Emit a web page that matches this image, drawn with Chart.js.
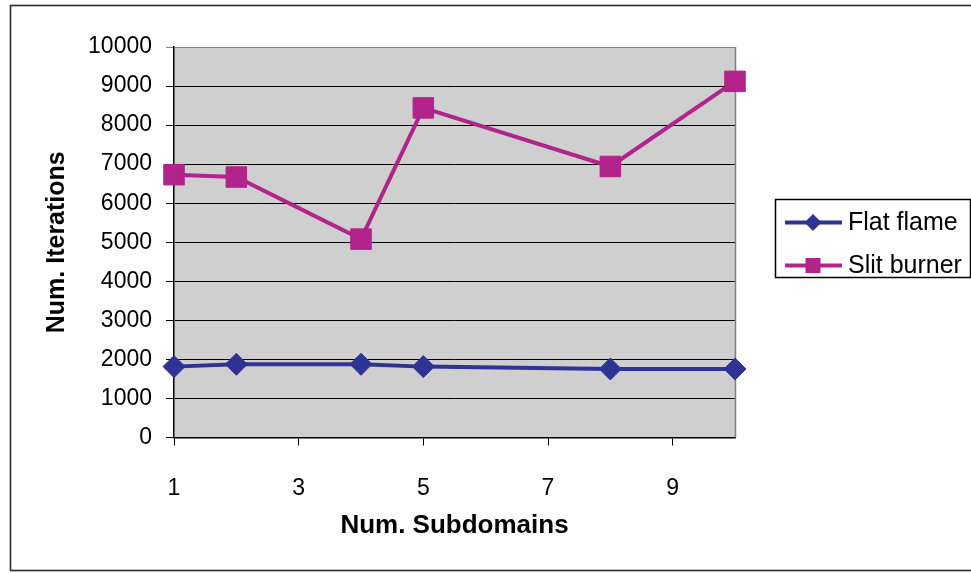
<!DOCTYPE html>
<html>
<head>
<meta charset="utf-8">
<script src="https://cdn.jsdelivr.net/npm/chart.js@4/dist/chart.umd.min.js"></script>
<style>
  html, body { margin: 0; padding: 0; background: #ffffff; }
  #wrap { width: 971px; height: 573px; position: relative; }
</style>
</head>
<body>
<div id="wrap"><canvas id="chart" width="971" height="573"></canvas></div>
<script>
// Iteration counts versus number of subdomains
const subdomains = [1, 2, 4, 5, 8, 10];
const flatFlame  = [1815, 1875, 1875, 1815, 1755, 1755];
const slitBurner = [6730, 6670, 5080, 8440, 6940, 9120];
const xTickValues = [1, 3, 5, 7, 9];
const seriesNames = ['Flat flame', 'Slit burner'];
const xTitle = 'Num. Subdomains';
const yTitle = 'Num. Iterations';

const FONT = '"Liberation Sans", Arial, Helvetica, sans-serif';
const BLUE = '#2F3393';
const MAGENTA = '#B2238B';

const toPoints = ys => subdomains.map((x, i) => ({ x: x, y: ys[i] }));

// Grey plot area, right frame line and outer border
const framePlugin = {
  id: 'frame',
  beforeDraw(chart) {
    const { ctx, chartArea: a } = chart;
    ctx.save();
    ctx.fillStyle = '#ffffff';
    ctx.fillRect(0, 0, chart.width, chart.height);
    ctx.fillStyle = '#CFCFCF';
    ctx.fillRect(a.left, a.top, a.right - a.left, a.bottom - a.top);
    ctx.restore();
  },
  beforeDatasetsDraw(chart) {
    const { ctx, chartArea: a } = chart;
    ctx.save();
    ctx.strokeStyle = '#808080';
    ctx.lineWidth = 1.5;
    ctx.beginPath();
    ctx.moveTo(a.right + 0.5, a.top);
    ctx.lineTo(a.right + 0.5, a.bottom);
    ctx.stroke();
    ctx.restore();
  },
  afterDraw(chart) {
    const { ctx } = chart;
    ctx.save();
    ctx.strokeStyle = '#2a2a2a';
    ctx.lineWidth = 1.6;
    ctx.strokeRect(10.5, 5.5, chart.width + 20, chart.height - 8);
    ctx.restore();
  }
};

// Boxed legend to the right of the plot
const boxLegendPlugin = {
  id: 'boxLegend',
  afterDraw(chart) {
    const { ctx } = chart;
    const box = { x: 775.5, y: 199.5, w: 195, h: 78 };
    ctx.save();
    ctx.strokeStyle = '#000000';
    ctx.lineWidth = 1.5;
    ctx.strokeRect(box.x, box.y, box.w, box.h);
    const rows = [222.5, 265.5];
    chart.data.datasets.forEach((ds, i) => {
      const y = rows[i];
      ctx.strokeStyle = ds.borderColor;
      ctx.lineWidth = 4;
      ctx.beginPath();
      ctx.moveTo(785, y);
      ctx.lineTo(842, y);
      ctx.stroke();
      ctx.fillStyle = ds.backgroundColor;
      if (ds.pointStyle === 'rectRot') {
        const r = 8.5;
        ctx.beginPath();
        ctx.moveTo(813, y - r);
        ctx.lineTo(813 + r, y);
        ctx.lineTo(813, y + r);
        ctx.lineTo(813 - r, y);
        ctx.closePath();
        ctx.fill();
      } else {
        const s = 15;
        ctx.fillRect(813 - s / 2, y - s / 2, s, s);
      }
      ctx.fillStyle = '#000000';
      ctx.font = '25px ' + FONT;
      ctx.textAlign = 'left';
      ctx.textBaseline = 'middle';
      ctx.fillText(ds.label, 848, y + 1);
    });
    ctx.restore();
  }
};

new Chart(document.getElementById('chart'), {
  type: 'line',
  data: {
    datasets: [
      {
        label: seriesNames[0],
        data: toPoints(flatFlame),
        borderColor: BLUE,
        backgroundColor: BLUE,
        borderWidth: 4,
        pointStyle: 'rectRot',
        pointRadius: 11,
        pointBorderWidth: 1,
        pointHoverRadius: 11,
        tension: 0,
        clip: false
      },
      {
        label: seriesNames[1],
        data: toPoints(slitBurner),
        borderColor: MAGENTA,
        backgroundColor: MAGENTA,
        borderWidth: 4,
        pointStyle: 'rect',
        pointRadius: 14.5,
        pointBorderWidth: 1,
        pointHoverRadius: 14.5,
        tension: 0,
        clip: false
      }
    ]
  },
  options: {
    responsive: false,
    animation: false,
    events: [],
    layout: { padding: { left: 10, top: 47, right: 236, bottom: 0 } },
    plugins: {
      legend: { display: false },
      tooltip: { enabled: false }
    },
    scales: {
      x: {
        type: 'linear',
        min: 1,
        max: 10,
        afterBuildTicks(scale) {
          scale.ticks = xTickValues.map(v => ({ value: v }));
        },
        afterFit(scale) { scale.height = 135.5; },
        grid: {
          drawOnChartArea: false,
          drawTicks: true,
          tickLength: 8,
          color: '#000000',
          lineWidth: 1
        },
        border: { display: true, color: '#000000', width: 1.5 },
        ticks: {
          autoSkip: false,
          maxRotation: 0,
          padding: 29,
          color: '#000000',
          font: { family: FONT, size: 23 }
        },
        title: {
          display: true,
          text: xTitle,
          color: '#000000',
          font: { family: FONT, size: 26, weight: 'bold' },
          padding: { top: 0, bottom: 32 }
        }
      },
      y: {
        min: 0,
        max: 10000,
        afterFit(scale) { scale.width = 164; },
        grid: {
          color: ctx => (ctx.tick && ctx.tick.value === 10000) ? '#808080' : '#000000',
          lineWidth: 1,
          drawTicks: true,
          tickLength: 8
        },
        border: { display: true, color: '#000000', width: 1.5 },
        ticks: {
          stepSize: 1000,
          padding: 14,
          color: '#000000',
          font: { family: FONT, size: 23 },
          callback: v => String(v)
        },
        title: {
          display: true,
          text: yTitle,
          color: '#000000',
          font: { family: FONT, size: 25, weight: 'bold' },
          padding: { top: 32, bottom: 0 }
        }
      }
    }
  },
  plugins: [framePlugin, boxLegendPlugin]
});
</script>
</body>
</html>
